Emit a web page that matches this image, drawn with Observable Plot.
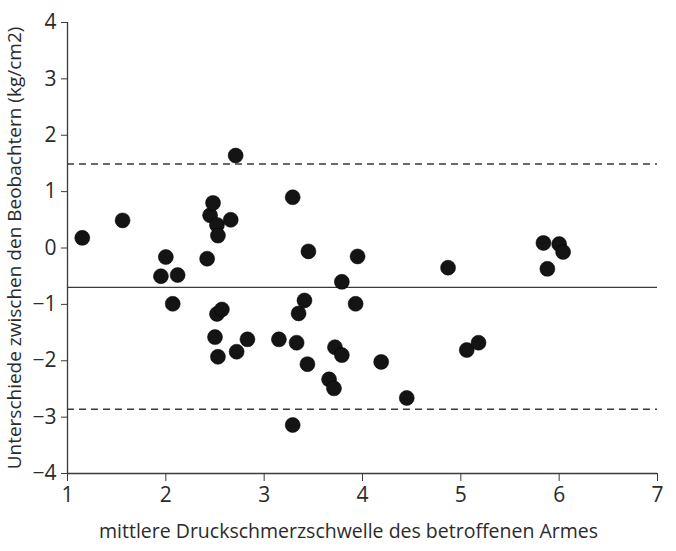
<!DOCTYPE html>
<html>
<head>
<meta charset="utf-8">
<script src="https://cdn.jsdelivr.net/npm/d3@7"></script>
<script src="https://cdn.jsdelivr.net/npm/@observablehq/plot@0.6"></script>
<style>
  html, body { margin: 0; padding: 0; background: #ffffff; }
  #chart { width: 676px; height: 551px; }
</style>
</head>
<body>
<div id="chart"></div>
<script>
// Mean pain-pressure threshold (x) and difference between observers (y)
const meanThreshold = [1.15, 1.56, 1.95, 2.00, 2.07, 2.12, 2.42, 2.45, 2.48, 2.52, 2.53, 2.66, 2.71,
  2.52, 2.57, 2.50, 2.53, 2.72, 2.83, 3.15, 3.29, 3.29, 3.33, 3.35, 3.41, 3.44, 3.45,
  3.66, 3.71, 3.72, 3.79, 3.79, 3.93, 3.95, 4.19, 4.45, 4.87, 5.06, 5.18, 5.84, 5.88, 6.00, 6.04];
const observerDiff = [0.18, 0.49, -0.50, -0.16, -0.99, -0.48, -0.19, 0.58, 0.80, 0.41, 0.22, 0.50, 1.64,
  -1.17, -1.09, -1.58, -1.93, -1.84, -1.62, -1.62, 0.90, -3.14, -1.68, -1.16, -0.93, -2.06, -0.06,
  -2.33, -2.49, -1.76, -1.90, -0.60, -0.99, -0.15, -2.02, -2.66, -0.35, -1.81, -1.68, 0.09, -0.37, 0.07, -0.07];
const meanDifference = [-0.70];
const limitsOfAgreement = [1.49, -2.86];
const xTicks = [1, 2, 3, 4, 5, 6, 7];
const yTicks = [-4, -3, -2, -1, 0, 1, 2, 3, 4];
const xDomain = [1, 7];
const yDomain = [-4, 4];
const xTitle = "mittlere Druckschmerzschwelle des betroffenen Armes";
const yTitle = "Unterschiede zwischen den Beobachtern (kg/cm2)";

const points = meanThreshold.map((x, i) => ({x, y: observerDiff[i]}));
const ink = "#2b2b2b";

const chart = Plot.plot({
  width: 676,
  height: 551,
  marginLeft: 67,
  marginRight: 19,
  marginTop: 22,
  marginBottom: 78,
  style: {fontFamily: "'Open Sans', sans-serif", color: ink, background: "#ffffff", overflow: "visible"},
  x: {domain: xDomain},
  y: {domain: yDomain},
  marks: [
    Plot.ruleY(meanDifference, {stroke: "#3a3a3a", strokeWidth: 1.3}),
    Plot.ruleY(limitsOfAgreement, {stroke: "#3a3a3a", strokeWidth: 1.3, strokeDasharray: "7,5"}),
    Plot.ruleX([xDomain[0]], {stroke: "#3a3a3a", strokeWidth: 1.3}),
    Plot.ruleY([yDomain[0]], {stroke: "#3a3a3a", strokeWidth: 1.3}),
    Plot.dot(points, {x: "x", y: "y", r: 7.5, fill: "#141414", stroke: "#000", strokeWidth: 0.5}),
    Plot.axisX({ticks: xTicks, tickFormat: "d", tickSize: 8, tickPadding: 6, fontSize: 21, label: null, stroke: "#3a3a3a"}),
    Plot.text([xTitle], {frameAnchor: "bottom", lineAnchor: "middle", dx: -14, dy: 58, fontSize: 19.5, fill: ink}),
    Plot.axisY({ticks: yTicks, tickFormat: "d", tickSize: 6, tickPadding: 5, fontSize: 21, label: null, stroke: "#3a3a3a"}),
    Plot.axisY({ticks: [], label: yTitle, labelAnchor: "center", labelOffset: 60, labelArrow: "none", fontSize: 19})
  ]
});
document.getElementById("chart").appendChild(chart);
</script>
</body>
</html>
